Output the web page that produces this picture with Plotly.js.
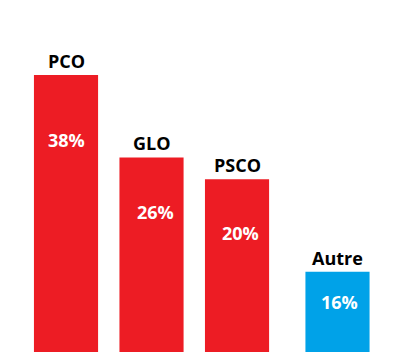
<!DOCTYPE html>
<html>
<head>
<meta charset="utf-8">
<script src="https://cdn.plot.ly/plotly-3.0.1.min.js"></script>
<style>html,body{margin:0;padding:0;background:#fff;}#chart{width:410px;height:352px;}</style>
</head>
<body>
<div id="chart"></div>
<script>
// Categories and values
const categories = ["PCO", "GLO", "PSCO", "Autre"];
const percentLabels = [38, 26, 20, 16];          // printed percentages
const barHeights = [38, 26.7, 23.7, 11.0];       // drawn bar heights (same units as PCO = 38)
const labelLevels = [29.1, 19.2, 16.3, 6.9];     // vertical level of the % labels inside bars

const colors = ["#ED1C24", "#ED1C24", "#ED1C24", "#00A2E8"];
const barWidth = 0.75;
const offsets = [-barWidth/2, -barWidth/2, -barWidth/2, -barWidth/2 + 0.175];
const labelShift = [0, 0.05, 0.04, 0.2];
const nameShift = [0, 0, 0, 0.175];

const trace = {
  type: "bar",
  x: categories,
  y: barHeights,
  width: barWidth,
  offset: offsets,
  marker: {color: colors, line: {width: 0}},
  hoverinfo: "none"
};

const font = "Open Sans, sans-serif";
const annotations = categories.map((c, i) => ({
  x: i + labelShift[i],
  y: labelLevels[i],
  xref: "x", yref: "y",
  text: percentLabels[i] + "%",
  showarrow: false,
  font: {family: font, size: 18, color: "#fff", weight: 700}
})).concat(categories.map((c, i) => ({
  x: i + nameShift[i],
  y: barHeights[i],
  xref: "x", yref: "y",
  yanchor: "bottom",
  yshift: 0,
  text: c,
  showarrow: false,
  font: {family: font, size: 18, color: "#000", weight: 700}
})));

const layout = {
  width: 410, height: 352,
  margin: {l: 0, r: 0, t: 0, b: 0},
  paper_bgcolor: "#fff", plot_bgcolor: "#fff",
  showlegend: false,
  xaxis: {type: "category", range: [-0.772, 4.023], visible: false, fixedrange: true},
  yaxis: {range: [0, 48.3], visible: false, fixedrange: true},
  annotations: annotations
};

Plotly.newPlot("chart", [trace], layout, {displayModeBar: false, staticPlot: true});
</script>
</body>
</html>
